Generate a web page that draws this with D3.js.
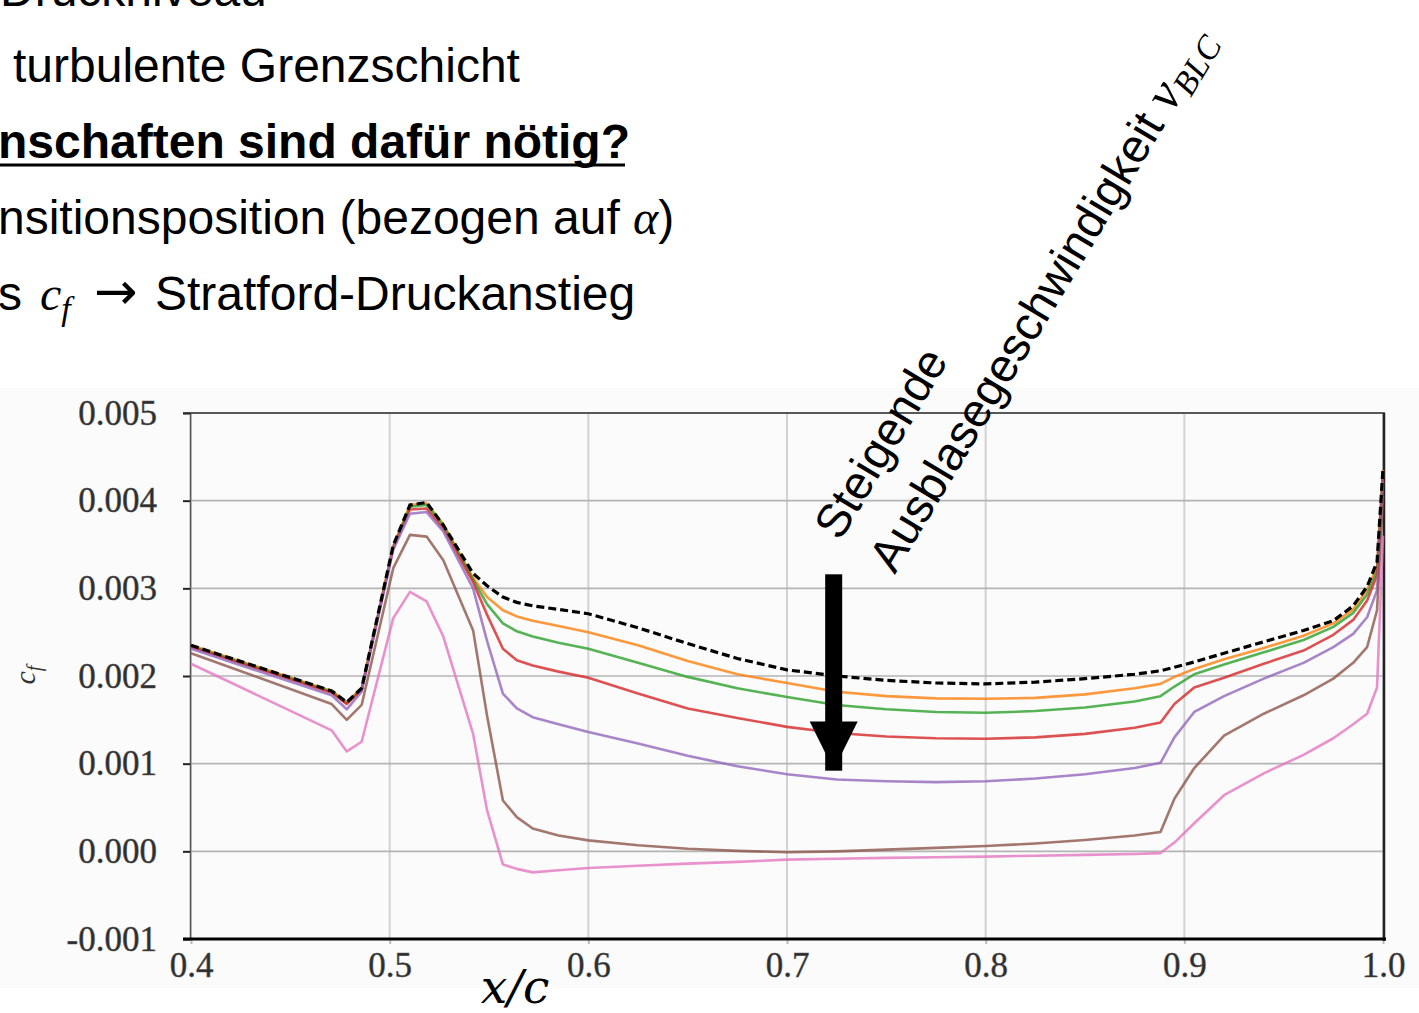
<!DOCTYPE html>
<html><head><meta charset="utf-8">
<script src="https://cdn.jsdelivr.net/npm/d3@7"></script>
<style>body{margin:0;background:#fff;} svg{display:block;}</style>
</head><body><svg id="chart" width="1419" height="1013"></svg>
<script>
// ---- data (c_f in units of 1e-3) ----
const xNodes = [0.400,0.4708,0.4784,0.4859,0.5018,0.5102,0.5186,0.5270,0.5420,0.5490,0.5570,0.5640,0.5720,0.5850,
  0.600,0.625,0.650,0.675,0.700,0.725,0.750,0.775,0.800,0.825,0.850,0.875,0.888,0.895,0.905,0.920,0.940,0.960,0.975,0.985,0.992,0.997,1.000];
const cfReference = [2.35,1.83,1.70,1.86,3.49,3.95,3.98,3.72,3.17,3.03,2.90,2.84,2.80,2.76,
  2.71,2.55,2.37,2.20,2.07,2.00,1.95,1.92,1.91,1.93,1.97,2.02,2.06,2.10,2.16,2.26,2.39,2.52,2.63,2.80,3.02,3.30,4.37];
const cfOrange = [2.35,1.83,1.70,1.86,3.48,3.95,3.97,3.73,3.12,2.90,2.75,2.68,2.63,2.57,
  2.50,2.35,2.17,2.02,1.92,1.82,1.77,1.745,1.74,1.75,1.79,1.86,1.91,1.99,2.08,2.19,2.32,2.46,2.60,2.76,2.98,3.25,4.35];
const cfGreen = [2.34,1.82,1.69,1.85,3.47,3.93,3.95,3.72,3.10,2.82,2.60,2.51,2.45,2.38,
  2.31,2.15,1.99,1.86,1.76,1.67,1.62,1.59,1.58,1.60,1.64,1.71,1.77,1.88,2.02,2.13,2.27,2.41,2.56,2.72,2.93,3.20,4.32];
const cfRed = [2.33,1.81,1.68,1.84,3.46,3.90,3.91,3.68,3.07,2.70,2.31,2.18,2.12,2.05,
  1.98,1.80,1.63,1.52,1.42,1.35,1.31,1.29,1.285,1.30,1.34,1.41,1.47,1.68,1.87,1.98,2.14,2.29,2.47,2.64,2.86,3.15,4.28];
const cfPurple = [2.31,1.78,1.62,1.82,3.44,3.85,3.87,3.65,3.00,2.40,1.80,1.63,1.53,1.45,
  1.36,1.23,1.09,0.97,0.88,0.82,0.80,0.79,0.80,0.83,0.88,0.95,1.01,1.30,1.59,1.77,1.97,2.15,2.33,2.48,2.67,2.98,4.22];
const cfBrown = [2.26,1.68,1.50,1.67,3.23,3.61,3.59,3.32,2.52,1.55,0.58,0.39,0.26,0.18,
  0.125,0.07,0.03,0.005,-0.01,0.00,0.02,0.04,0.06,0.09,0.13,0.18,0.22,0.60,0.95,1.32,1.57,1.78,1.97,2.15,2.33,2.75,4.05];
const cfPink = [2.14,1.38,1.14,1.25,2.66,2.96,2.85,2.45,1.34,0.47,-0.15,-0.20,-0.24,-0.215,
  -0.19,-0.165,-0.14,-0.12,-0.095,-0.085,-0.075,-0.068,-0.06,-0.05,-0.04,-0.03,-0.02,0.10,0.32,0.64,0.89,1.10,1.29,1.45,1.57,1.87,3.60];
const seriesColors = ["#ff7f0e","#2ca02c","#d62728","#9467bd","#8c564b","#e377c2"];
const xTickValues = [0.4,0.5,0.6,0.7,0.8,0.9,1.0];
const xTickLabels = ["0.4","0.5","0.6","0.7","0.8","0.9","1.0"];
const yTickValues = [-1,0,1,2,3,4,5];
const yTickLabels = ["-0.001","0.000","0.001","0.002","0.003","0.004","0.005"];

const svg = d3.select("#chart");
svg.append("rect").attr("width",1419).attr("height",1013).attr("fill","#fff");

// ---- slide text ----
const sans = "'Liberation Sans', Arial, sans-serif";
const serif = "'Liberation Serif', 'Times New Roman', serif";
const fs = 48;
svg.append("text").attr("x",0).attr("y",6).attr("font-family",sans).attr("font-size",fs).text("Druckniveau");
svg.append("text").attr("x",13).attr("y",82).attr("font-family",sans).attr("font-size",fs).text("turbulente Grenzschicht");
svg.append("text").attr("x",-2).attr("y",158).attr("font-family",sans).attr("font-size",fs)
  .attr("font-weight","bold").text("nschaften sind dafür nötig?");
const t4 = svg.append("text").attr("x",-2).attr("y",234).attr("font-family",sans).attr("font-size",fs);
t4.append("tspan").text("nsitionsposition (bezogen auf ");
t4.append("tspan").attr("font-family",serif).attr("font-style","italic").text("α");
t4.append("tspan").text(")");
svg.append("text").attr("x",-2).attr("y",310).attr("font-family",sans).attr("font-size",fs).text("s");
const cf5 = svg.append("text").attr("x",40).attr("y",310).attr("font-family",serif)
  .attr("font-style","italic").attr("font-size",fs);
cf5.append("tspan").text("c");
cf5.append("tspan").attr("dy",10).attr("font-size",34).text("f");
svg.append("text").attr("x",94).attr("y",309).attr("font-family","'DejaVu Sans', sans-serif").attr("font-size",52).text("→");
svg.append("text").attr("x",155).attr("y",310).attr("font-family",sans).attr("font-size",fs).text("Stratford-Druckanstieg");

// underline for bold line
svg.append("line").attr("x1",0).attr("x2",625).attr("y1",165).attr("y2",165).attr("stroke","#000").attr("stroke-width",3);

// ---- chart ----
svg.append("rect").attr("x",0).attr("y",388).attr("width",1419).attr("height",600).attr("fill","#fbfbfb");

const x = d3.scaleLinear().domain([0.4,1.0]).range([191,1383]);
const y = d3.scaleLinear().domain([-1,5]).range([939,413]);

const g = svg.append("g");
g.selectAll(".vg").data(xTickValues).join("line")
  .attr("x1",d=>x(d)).attr("x2",d=>x(d)).attr("y1",y(5)).attr("y2",y(-1))
  .attr("stroke","#d2d2d2").attr("stroke-width",2);
g.selectAll(".hg").data(yTickValues).join("line")
  .attr("x1",x(0.4)).attr("x2",x(1.0)).attr("y1",d=>y(d)).attr("y2",d=>y(d))
  .attr("stroke","#b4b4b4").attr("stroke-width",1.6);

const yAxis = d3.axisLeft(y).tickValues(yTickValues).tickFormat((d,i)=>yTickLabels[i]).tickSize(7).tickPadding(26);
const ya = svg.append("g").attr("transform","translate(190,0)").call(yAxis);
ya.select(".domain").attr("stroke","#555").attr("stroke-width",1.5);
ya.selectAll(".tick line").attr("stroke","#222").attr("stroke-width",2);
ya.selectAll(".tick text").attr("font-family",serif).attr("font-size",35).attr("fill","#2e2e2e")
  .attr("stroke","#555").attr("stroke-width",0.5);

const xAxis = d3.axisBottom(x).tickValues(xTickValues).tickFormat((d,i)=>xTickLabels[i]).tickSize(5).tickPadding(8);
const xa = svg.append("g").attr("transform","translate(0,939)").call(xAxis);
xa.select(".domain").remove();
xa.selectAll(".tick line").attr("stroke","#bbb").attr("stroke-width",2);
xa.selectAll(".tick text").attr("font-family",serif).attr("font-size",35).attr("fill","#2e2e2e")
  .attr("stroke","#555").attr("stroke-width",0.5);

// frame
svg.append("line").attr("x1",183).attr("x2",1385).attr("y1",y(5)).attr("y2",y(5)).attr("stroke","#333").attr("stroke-width",1.5);
svg.append("line").attr("x1",1384).attr("x2",1384).attr("y1",y(5)).attr("y2",y(-1)+2).attr("stroke","#222").attr("stroke-width",2.5);
svg.append("line").attr("x1",183).attr("x2",1386).attr("y1",939).attr("y2",939).attr("stroke","#000").attr("stroke-width",3);

// lines
const line = d3.line().x((d,i)=>x(xNodes[i])).y(d=>y(d));
const coloredSeries = [cfOrange,cfGreen,cfRed,cfPurple,cfBrown,cfPink];
svg.append("g").selectAll("path").data(coloredSeries).join("path")
  .attr("d",line).attr("fill","none").attr("stroke",(d,i)=>seriesColors[i])
  .attr("stroke-width",2.6).attr("stroke-opacity",0.8).attr("stroke-linejoin","round");
svg.append("path").datum(cfReference).attr("d",line).attr("fill","none")
  .attr("stroke","#000").attr("stroke-width",3.2).attr("stroke-dasharray","8,4");

// axis titles
const yl = svg.append("text").attr("transform","translate(35,675) rotate(-90)").attr("text-anchor","middle")
  .attr("font-family",serif).attr("font-style","italic").attr("font-size",30).attr("fill","#333");
yl.append("tspan").text("c");
yl.append("tspan").attr("dy",6).attr("font-size",20).text("f");
svg.append("text").attr("x",515).attr("y",1003).attr("text-anchor","middle")
  .attr("font-family","'DejaVu Serif', serif").attr("font-style","italic").attr("font-size",47).text("x/c");

// arrow
const ax = x(0.7235);
const arrow = svg.append("g");
arrow.append("rect").attr("x",ax-8.5).attr("y",y(3.16)).attr("width",17).attr("height",y(0.92)-y(3.16)).attr("fill","#000");
arrow.append("path").attr("d",`M${ax-24},${y(1.48)} L${ax+24},${y(1.48)} L${ax},${y(0.93)} Z`).attr("fill","#000");

// annotation text
const ann = svg.append("g").attr("transform","translate(840,542) rotate(-59)");
ann.append("text").attr("x",0).attr("y",0).attr("font-family",sans).attr("font-size",47).text("Steigende");
const a2 = ann.append("text").attr("x",0).attr("y",64).attr("font-family",sans).attr("font-size",47);
a2.append("tspan").text("Ausblasegeschwindigkeit ");
a2.append("tspan").attr("font-family",serif).attr("font-style","italic").attr("font-size",52).text("v");
a2.append("tspan").attr("dy",8).attr("font-family",serif).attr("font-style","italic").attr("font-size",34).text("BLC");
</script></body></html>
